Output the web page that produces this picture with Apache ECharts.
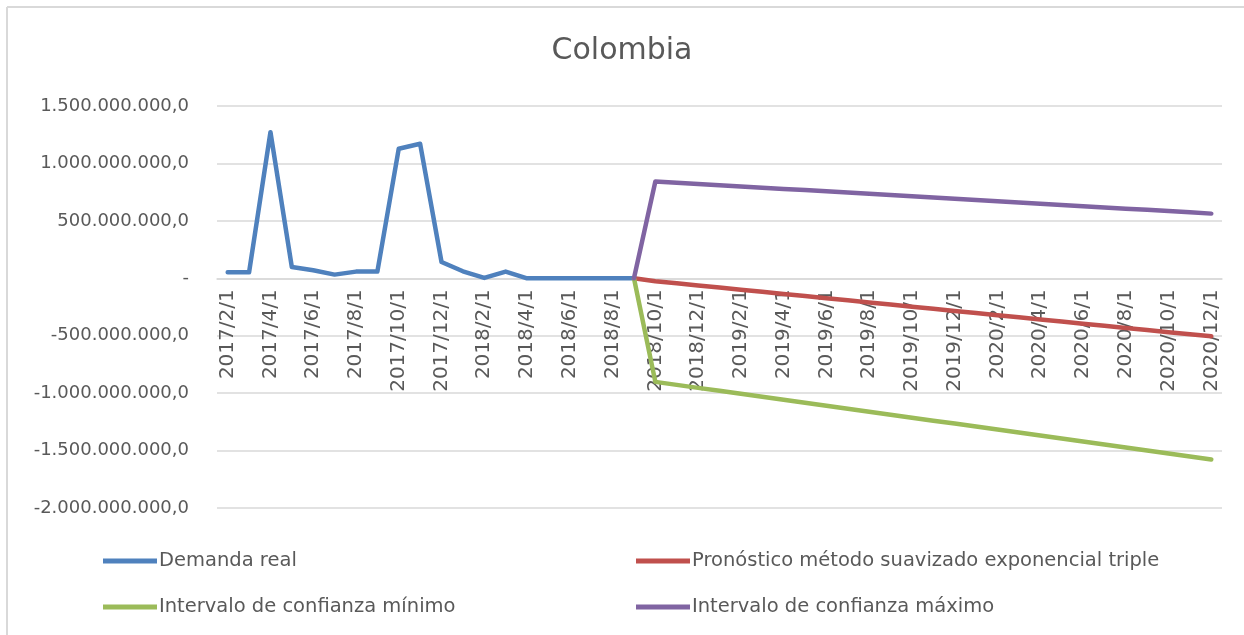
<!DOCTYPE html>
<html>
<head>
<meta charset="utf-8">
<script src="https://cdn.jsdelivr.net/npm/echarts@6/dist/echarts.min.js"></script>
<style>
html,body{margin:0;padding:0;background:#fff;}
#c{width:1244px;height:635px;}
</style>
</head>
<body>
<div id="c"></div>
<script>
// Categories (monthly)
const categories = [
  '2017/2/1','2017/3/1','2017/4/1','2017/5/1','2017/6/1','2017/7/1','2017/8/1','2017/9/1','2017/10/1','2017/11/1','2017/12/1',
  '2018/1/1','2018/2/1','2018/3/1','2018/4/1','2018/5/1','2018/6/1','2018/7/1','2018/8/1','2018/9/1','2018/10/1','2018/11/1','2018/12/1',
  '2019/1/1','2019/2/1','2019/3/1','2019/4/1','2019/5/1','2019/6/1','2019/7/1','2019/8/1','2019/9/1','2019/10/1','2019/11/1','2019/12/1',
  '2020/1/1','2020/2/1','2020/3/1','2020/4/1','2020/5/1','2020/6/1','2020/7/1','2020/8/1','2020/9/1','2020/10/1','2020/11/1','2020/12/1'
];
// Values in millions
const demandaReal = [52,52,1272,98,70,32,58,58,1128,1171,142,61,3,58,0,0,0,0,0,0];
const pronostico = [null,null,null,null,null,null,null,null,null,null,null,null,null,null,null,null,null,null,null,0,
  -25,-43,-62,-80,-99,-117,-136,-154,-173,-191,-210,-228,-247,-265,-284,-302,-321,-339,-358,-376,-395,-413,-432,-450,-469,-487,-505];
const intervaloMin = [null,null,null,null,null,null,null,null,null,null,null,null,null,null,null,null,null,null,null,0,
  -902,-928,-954,-980,-1006,-1032,-1058,-1084,-1110,-1136,-1162,-1188,-1214,-1240,-1265,-1291,-1317,-1343,-1369,-1395,-1421,-1447,-1473,-1499,-1525,-1551,-1577];
const intervaloMax = [null,null,null,null,null,null,null,null,null,null,null,null,null,null,null,null,null,null,null,0,
  843,832,821,811,800,789,778,768,757,746,735,725,714,703,692,682,671,660,649,639,628,617,606,596,585,574,563];
const seriesNames = ['Demanda real','Pronóstico método suavizado exponencial triple','Intervalo de confianza mínimo','Intervalo de confianza máximo'];
const colors = ['#4F81BD','#C0504D','#9BBB59','#8064A2'];

const M = 1e6;
const Y_MIN = -2000 * M, Y_MAX = 1500 * M;
const scale = a => a.map(v => v === null ? null : v * M);

function fmt(v){
  if (v === 0) return '-';
  const neg = v < 0;
  const s = Math.abs(Math.round(v)).toString().replace(/\B(?=(\d{3})+(?!\d))/g, '.');
  return (neg ? '-' : '') + s + ',0';
}

const font = '"DejaVu Sans", "Open Sans", sans-serif';
const GRID_TOP = 106, GRID_BOTTOM = 127, H = 635;
const plotH = H - GRID_TOP - GRID_BOTTOM;
const zeroOffset = -(plotH * (0 - Y_MIN) / (Y_MAX - Y_MIN));

const chart = echarts.init(document.getElementById('c'), null, {renderer:'canvas'});
const mk = (name, data, i) => ({
  name, type:'line', data: scale(data), symbol:'none', connectNulls:false,
  lineStyle:{width:4.5, color:colors[i], cap:'round', join:'round'},
  itemStyle:{color:colors[i]}, animation:false
});
const legendText = {fontFamily:font, fontSize:19.5, color:'#595959', padding:[0,0,0,-3]};
chart.setOption({
  animation:false,
  textStyle:{fontFamily:font},
  title:{text:'Colombia', left:'center', top:31, textStyle:{fontFamily:font, fontSize:30, fontWeight:'normal', color:'#595959'}},
  grid:{left:217, right:22, top:GRID_TOP, bottom:GRID_BOTTOM, containLabel:false},
  legend:[
    {data:[seriesNames[0], seriesNames[2]], orient:'vertical', left:103, top:551, padding:0, itemGap:26, itemWidth:54, itemHeight:5, icon:'rect', textStyle:legendText},
    {data:[seriesNames[1], seriesNames[3]], orient:'vertical', left:636, top:551, padding:0, itemGap:26, itemWidth:54, itemHeight:5, icon:'rect', textStyle:legendText}
  ],
  xAxis:{type:'category', data:categories, boundaryGap:true, offset: zeroOffset,
    axisLine:{onZero:false, lineStyle:{color:'#d9d9d9', width:1.5}},
    axisTick:{show:false},
    axisLabel:{rotate:90, interval:1, color:'#595959', fontSize:20, fontFamily:font, margin:11},
    splitLine:{show:false}},
  yAxis:{type:'value', min:Y_MIN, max:Y_MAX, interval:500*M,
    axisLine:{show:false}, axisTick:{show:false},
    axisLabel:{formatter:fmt, color:'#595959', fontSize:18, fontFamily:font, margin:28},
    splitLine:{lineStyle:{color:'#d9d9d9', width:1.5}}},
  graphic:[
    {type:'line', shape:{x1:7, y1:7, x2:7, y2:635}, style:{stroke:'#d9d9d9', lineWidth:2}},
    {type:'line', shape:{x1:7, y1:7, x2:1244, y2:7}, style:{stroke:'#d9d9d9', lineWidth:2}}
  ],
  series:[
    mk(seriesNames[0], demandaReal, 0),
    mk(seriesNames[1], pronostico, 1),
    mk(seriesNames[2], intervaloMin, 2),
    mk(seriesNames[3], intervaloMax, 3)
  ]
});
</script>
</body>
</html>
